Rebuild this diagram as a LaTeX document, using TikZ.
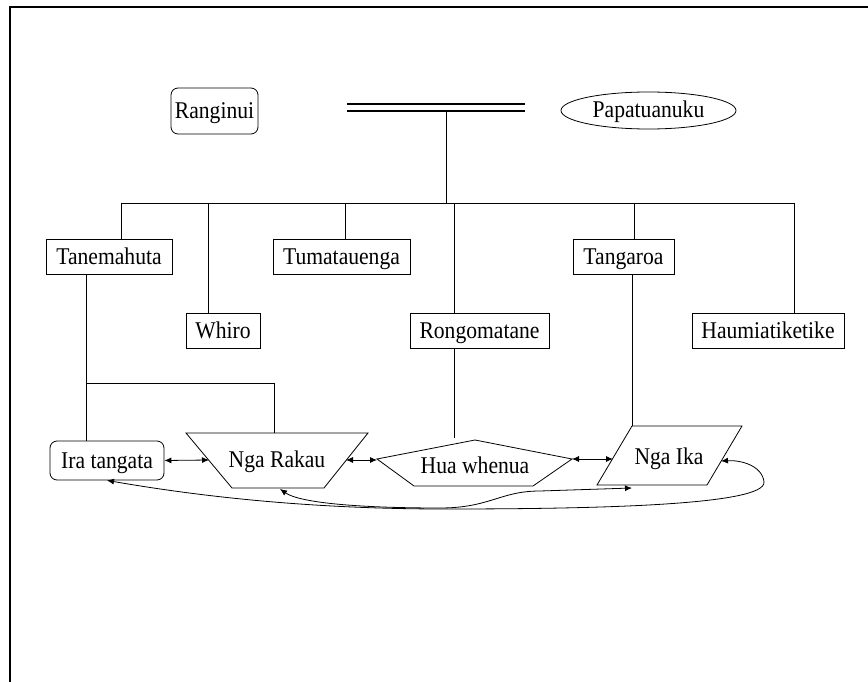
\documentclass[tikz,border=0pt]{standalone}
\usepackage{fontspec}
\setmainfont{Liberation Serif}[FakeStretch=0.9]
\usetikzlibrary{arrows.meta,shapes.geometric}

\begin{document}
\begin{tikzpicture}[x=1pt,y=-1pt,line width=0.8pt,
    every node/.style={font=\fontsize{24}{28}\selectfont,inner sep=0pt,
      text height=16pt,text depth=1pt},
    god/.style={draw,rectangle,minimum height=35pt},
    parent/.style={draw,rounded corners=7pt},
    twoway/.style={{Latex[length=7pt,width=6pt]}-{Latex[length=7pt,width=6pt]}}]

  \useasboundingbox (0,0) rectangle (868,682);
  \draw[line width=2pt] (868,7) -- (10,7) -- (10,682);

  % parents
  \draw (214.5,111) node (rangi) [parent,minimum width=87pt,minimum height=46pt] {Ranginui};
  \draw (648.5,110.5) node (papa) [draw,ellipse,minimum width=175pt,minimum height=37pt] {Papatuanuku};
  \draw[line width=1.5pt] (347,104) -- (525,104);
  \draw[line width=1.5pt] (347,111) -- (525,111);
  \coordinate (union) at (446,111);
  \coordinate (bus) at (446,203);
  \draw (union) -- (bus);

  % children
  \draw (109,257) node (tane) [god,minimum width=126pt] {Tanemahuta};
  \draw (223,331) node (whiro) [god,minimum width=74pt] {Whiro};
  \draw (341.5,257) node (tuma) [god,minimum width=137pt] {Tumatauenga};
  \draw (479.5,331) node (rongo) [god,minimum width=139pt] {Rongomatane};
  \draw (623.5,257) node (tanga) [god,minimum width=101pt] {Tangaroa};
  \draw (768,331) node (haumia) [god,minimum width=152pt] {Haumiatiketike};

  \coordinate (b1) at (121,203);
  \coordinate (b2) at (208,203);
  \coordinate (b3) at (345,203);
  \coordinate (b4) at (454,203);
  \coordinate (b5) at (634,203);
  \coordinate (b6) at (794,203);
  \draw (b1) -- (b6);
  \draw (b1) -- (b1 |- tane.north);
  \draw (b2) -- (b2 |- whiro.north);
  \draw (b3) -- (b3 |- tuma.north);
  \draw (b4) -- (b4 |- rongo.north);
  \draw (b5) -- (b5 |- tanga.north);
  \draw (b6) -- (b6 |- haumia.north);

  % offspring
  \draw (107,460.5) node (ira) [parent,minimum width=114pt,minimum height=39pt] {Ira tangata};
  \draw (277,460) node (rakau) {Nga Rakau};
  \draw (186,433) -- (368,433) -- (324,488) -- (232,488) -- cycle;
  \draw (475,466) node (hua) {Hua whenua};
  \draw (377,459) -- (475,440) -- (572,459) -- (533,486) -- (414,486) -- cycle;
  \draw (669,457) node (ika) {Nga Ika};
  \draw (632,426) -- (742,426) -- (707,485) -- (597,485) -- cycle;

  \coordinate (rakau-w) at (209,460);
  \coordinate (rakau-e) at (346,460);
  \coordinate (rakau-n) at (274,433);
  \coordinate (rakau-s) at (280,489);
  \coordinate (hua-w) at (377,460);
  \coordinate (hua-e) at (572,459);
  \coordinate (hua-n) at (454,438);
  \coordinate (ika-w) at (613,459);
  \coordinate (ika-e) at (721,461);
  \coordinate (ika-n) at (632,426);
  \coordinate (ika-s) at (632,488);

  \coordinate (tfork) at (86,383);
  \draw (tfork |- tane.south) -- (tfork |- ira.north);
  \draw (tfork) -| (rakau-n);
  \draw (hua-n |- rongo.south) -- (hua-n);
  \draw (ika-n |- tanga.south) -- (ika-n);

  \draw[twoway] (ira.east) -- (rakau-w);
  \draw[twoway] (rakau-e) -- (hua-w);
  \draw[twoway] (hua-e) -- (ika-w);
  \draw[twoway] (ira.south) .. controls (220,500) and (330,509) .. (445,509)
    .. controls (600,509) and (766,505) .. (764,482)
    .. controls (762,465) and (740,460) .. (ika-e);
  \draw[twoway] (rakau-s) .. controls (300,503) and (360,508) .. (440,508)
    .. controls (490,508) and (500,491) .. (540,491) -- (ika-s);
\end{tikzpicture}
\end{document}
